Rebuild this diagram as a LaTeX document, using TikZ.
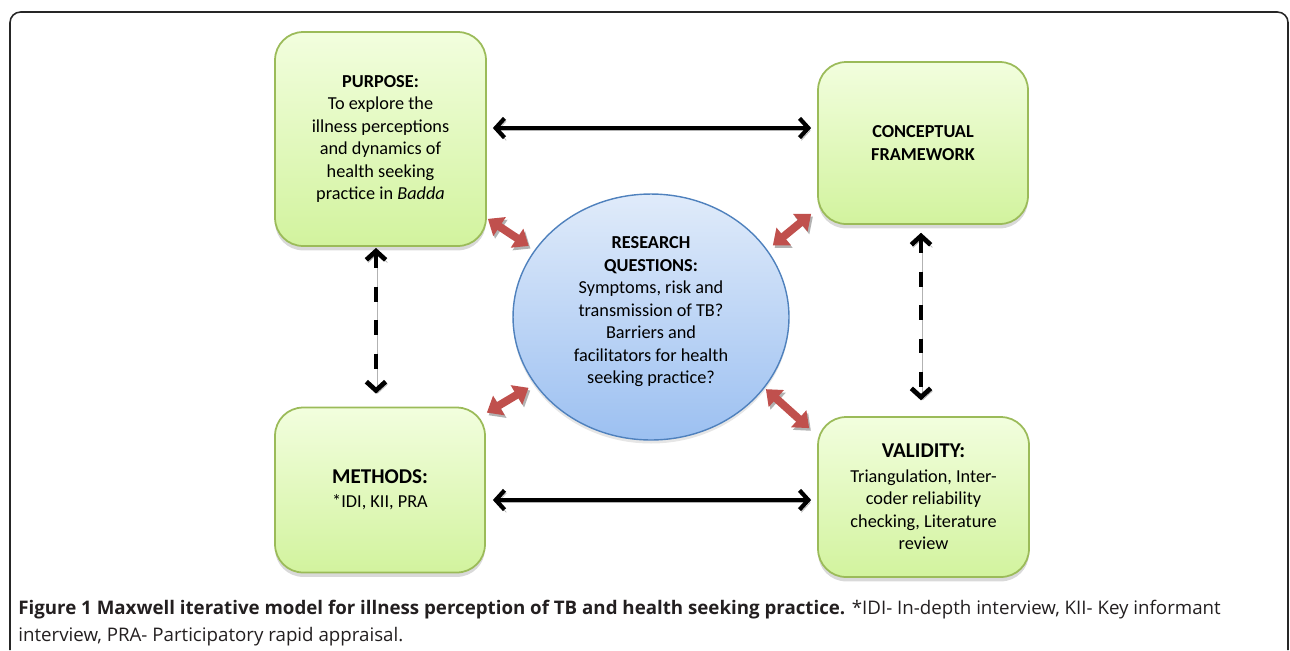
\documentclass[tikz,border=0pt]{standalone}
\usepackage{fontspec}
\setmainfont{Carlito}
\newfontfamily\capfont{Open Sans}
\usetikzlibrary{arrows.meta,shapes.geometric,shadows,calc}

\definecolor{boxtop}{RGB}{242,254,222}
\definecolor{boxbot}{RGB}{210,243,158}
\definecolor{boxline}{RGB}{155,187,89}
\definecolor{rqtop}{RGB}{224,235,250}
\definecolor{rqbot}{RGB}{156,192,241}
\definecolor{rqline}{RGB}{79,129,189}
\definecolor{linkred}{RGB}{192,80,77}
\definecolor{captext}{RGB}{35,31,32}

\tikzset{
  stage/.style={draw=boxline, line width=1pt, rounded corners=16pt,
    top color=boxtop, bottom color=boxbot, align=center, inner sep=0pt,
    font=\fontsize{10.4}{12.8}\selectfont,
    drop shadow={shadow xshift=0pt, shadow yshift=-2.5pt, opacity=0.3}},
  hub/.style={ellipse, draw=rqline, line width=0.8pt, top color=rqtop,
    bottom color=rqbot, align=center, inner sep=0pt,
    font=\fontsize{10.4}{12.8}\selectfont,
    drop shadow={shadow xshift=0pt, shadow yshift=-2pt, opacity=0.2}},
  linkshadow/.style={preaction={draw=black!30,
    transform canvas={shift={(1pt,-1.5pt)}}}},
  mainlink/.style={line width=2.4pt, linkshadow,
    {Straight Barb[length=5pt,width=11pt]}-{Straight Barb[length=5pt,width=11pt]}},
  sidelink/.style={mainlink, line width=2.7pt, dash pattern=on 8.5pt off 10.5pt},
  twoway/.style={draw=linkred, line width=4.5pt, linkshadow, shorten >=4pt,
    {Triangle[length=8pt,width=12.5pt]}-{Triangle[length=8pt,width=12.5pt]}}
}

\begin{document}
\begin{tikzpicture}[x=0.02cm, y=-0.02cm]
  \useasboundingbox (0,0) rectangle (1290,650);
  % outer frame
  \draw[line width=0.9pt, black!85, rounded corners=6pt]
    (10,650) -- (10,12) -- (1288,12) -- (1288,650);

  % the five parts of the model
  \node[stage, minimum width=4.22cm, minimum height=4.28cm] (purpose) at (380.5,139)
    {\textbf{PURPOSE:}\\To explore the\\illness perceptions\\and dynamics of\\health seeking\\practice in \textit{Badda}};
  \node[stage, minimum width=4.2cm, minimum height=3.24cm] (concept) at (923,143)
    {\textbf{CONCEPTUAL}\\\textbf{FRAMEWORK}};
  \node[stage, minimum width=4.2cm, minimum height=3.3cm] (methods) at (380,490)
    {{\fontsize{12}{14.5}\selectfont\bfseries METHODS:}\\[1pt]*IDI, KII, PRA};
  \node[stage, minimum width=4.22cm, minimum height=3.2cm] (validity) at (923.5,497)
    {{\fontsize{12}{14.5}\selectfont\bfseries VALIDITY:}\\[1pt]Triangulation, Inter-\\coder reliability\\checking, Literature\\review};
  \node[hub, minimum width=5.52cm, minimum height=4.92cm] (rq) at (651,317)
    {\textbf{RESEARCH}\\\textbf{QUESTIONS:}\\Symptoms, risk and\\transmission of TB?\\Barriers and\\facilitators for health\\seeking practice?\\[-5pt]\mbox{}};

  % black links
  \coordinate (toprow) at (0,128);
  \coordinate (botrow) at (0,500);
  \coordinate (leftcol) at (376,0);
  \coordinate (rightcol) at (921,0);
  \draw[mainlink, shorten <=3.4pt, shorten >=3.4pt] (purpose.east |- toprow) -- (concept.west |- toprow);
  \draw[mainlink, shorten <=4pt, shorten >=3.4pt] (methods.east |- botrow) -- (validity.west |- botrow);
  \draw[sidelink, shorten <=0.6pt, shorten >=7.4pt] (purpose.south -| leftcol) -- (methods.north -| leftcol);
  \draw[sidelink, shorten <=4.5pt, shorten >=9pt] (concept.south -| rightcol) -- (validity.north -| rightcol);

  % red links to the research questions
  \draw[twoway] ($(purpose.south east)+(1,-28)$) -- (rq.150);
  \draw[twoway] ($(concept.south west)+(-6,-11)$) -- (rq.30);
  \draw[twoway] ($(methods.north east)+(1,6)$) -- (rq.210);
  \draw[twoway, shorten >=1pt] ($(validity.north west)+(-8,12)$) -- (rq.328);

  % caption
  \node[anchor=north west, align=left, inner sep=0pt, text=captext,
    font=\capfont\fontsize{10.65}{15.3}\selectfont] (caption) at (18,600)
    {\textbf{Figure 1 Maxwell iterative model for illness perception of TB and health seeking practice.} *IDI- In-depth interview, KII- Key informant\\
     interview, PRA- Participatory rapid appraisal.};
\end{tikzpicture}
\end{document}
